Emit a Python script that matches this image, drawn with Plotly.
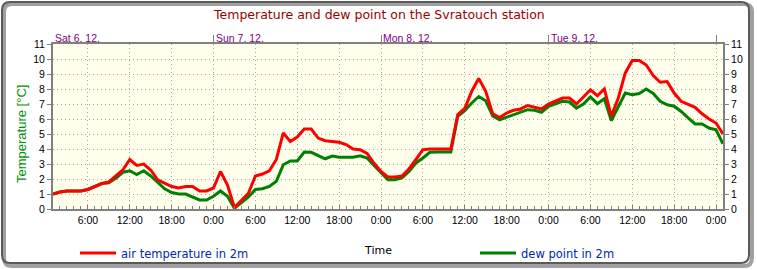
import plotly.graph_objects as go
import pandas as pd

# ---------------- data ----------------
times = pd.date_range("2008-12-06 01:00", "2008-12-10 01:00", freq="h")

air_temp = [1.0, 1.13, 1.2, 1.2, 1.2, 1.3, 1.5, 1.7, 1.8, 2.2, 2.6, 3.3, 2.9, 3.0, 2.6, 1.95,
            1.7, 1.5, 1.4, 1.5, 1.5, 1.2, 1.2, 1.4, 2.5, 1.6, 0.1, 0.55, 1.05, 2.2, 2.33, 2.55,
            3.3, 5.07, 4.5, 4.8, 5.33, 5.33, 4.73, 4.55, 4.5, 4.45, 4.3, 4.0, 3.95, 3.7, 3.05, 2.5,
            2.13, 2.13, 2.2, 2.67, 3.3, 3.95, 4.0, 4.0, 4.0, 4.0, 6.3, 6.7, 7.85, 8.7, 7.85, 6.35,
            6.1, 6.4, 6.58, 6.67, 6.9, 6.78, 6.67, 7.0, 7.18, 7.4, 7.4, 7.0, 7.47, 7.95, 7.55, 8.0,
            6.18, 7.4, 9.07, 9.9, 9.9, 9.6, 8.9, 8.45, 8.5, 7.73, 7.18, 7.0, 6.78, 6.35, 6.0, 5.73,
            5.0]

dew_point = [1.0, 1.13, 1.2, 1.2, 1.2, 1.3, 1.5, 1.7, 1.75, 2.05, 2.45, 2.55, 2.3, 2.55, 2.2, 1.8,
             1.35, 1.1, 1.0, 1.0, 0.8, 0.6, 0.6, 0.85, 1.2, 0.85, 0.05, 0.45, 0.8, 1.3, 1.35, 1.5,
             1.85, 2.95, 3.2, 3.2, 3.8, 3.78, 3.58, 3.35, 3.53, 3.45, 3.45, 3.45, 3.55, 3.4, 2.9, 2.4,
             1.95, 1.95, 2.07, 2.5, 3.07, 3.4, 3.78, 3.8, 3.78, 3.8, 6.18, 6.55, 7.07, 7.5, 7.22, 6.2,
             5.95, 6.13, 6.3, 6.45, 6.62, 6.58, 6.45, 6.85, 7.0, 7.18, 7.13, 6.73, 7.0, 7.47, 7.02, 7.35,
             5.9, 6.85, 7.73, 7.62, 7.7, 8.0, 7.7, 7.18, 6.95, 6.85, 6.5, 6.07, 5.67, 5.67, 5.4, 5.28,
             4.35]

x_tick_times = pd.date_range("2008-12-06 06:00", "2008-12-10 00:00", freq="6h")
x_tick_labels = ["6:00", "12:00", "18:00", "0:00"] * 4
x_tick_labels = x_tick_labels[:len(x_tick_times)]

day_starts = pd.date_range("2008-12-06", "2008-12-10", freq="D")
day_labels = ["Sat 6. 12.", "Sun 7. 12.", "Mon 8. 12.", "Tue 9. 12."]

y_ticks = list(range(0, 12))

title_text = "Temperature and dew point on the Svratouch station"
y_title = "Temperature [°C]"
x_title = "Time"
name_air = "air temperature in 2m"
name_dew = "dew point in 2m"

x_range = [times[0], times[-1]]

# ---------------- geometry helpers ----------------
W, H = 757, 270
L, R, T, B = 53, 723, 44, 209


def px(x):
    return (x - L) / (R - L)


def py(y):
    return (B - y) / (B - T)


fig = go.Figure()

fig.add_trace(go.Scatter(x=times, y=dew_point, mode="lines", name=name_dew,
                         line=dict(color="#008000", width=3),
                         xaxis="x", yaxis="y", legend="legend2"))
fig.add_trace(go.Scatter(x=times, y=air_temp, mode="lines", name=name_air,
                         line=dict(color="#FF0000", width=3),
                         xaxis="x2", yaxis="y2", legend="legend"))

axis_gray = "#808080"
grid_gray = "#A8A8A8"
grid_dash = "1px,3px"
tick_font = dict(family="Liberation Sans, Arial, sans-serif", size=10.5, color="black")
legend_font = dict(family="DejaVu Sans, Verdana, sans-serif", size=11.5, color="#0028B0")

fig.update_layout(
    width=W, height=H, autosize=False,
    margin=dict(l=L, r=W - R, t=T, b=H - B, autoexpand=False),
    paper_bgcolor="white",
    plot_bgcolor="#FFFFEC",
    xaxis=dict(type="date", range=x_range, tickmode="array", tickvals=x_tick_times,
               ticktext=x_tick_labels, ticks="inside", ticklen=4, tickcolor=axis_gray,
               showgrid=True, gridcolor=grid_gray, griddash=grid_dash, gridwidth=1,
               showline=True, linecolor=axis_gray, linewidth=2, zeroline=False,
               tickfont=tick_font,
               minor=dict(tick0="2008-12-06 00:00", dtick=3600000, ticks="inside",
                          ticklen=3, tickcolor=axis_gray, showgrid=False)),
    xaxis2=dict(type="date", range=x_range, overlaying="x", side="top", tickmode="array",
                tickvals=day_starts, ticks="outside", ticklen=7, tickcolor=axis_gray,
                showticklabels=False, showgrid=False, showline=True, linecolor=axis_gray,
                linewidth=2, zeroline=False),
    yaxis=dict(range=[0, 11], tickmode="array", tickvals=y_ticks, ticks="outside", ticklen=4,
               tickcolor=axis_gray, showgrid=True, gridcolor=grid_gray, griddash=grid_dash,
               showline=True, linecolor=axis_gray, linewidth=2, zeroline=False,
               tickfont=tick_font),
    yaxis2=dict(range=[0, 11], overlaying="y", side="right", tickmode="array", tickvals=y_ticks,
                ticks="outside", ticklen=4, tickcolor=axis_gray, showgrid=False,
                showline=True, linecolor=axis_gray, linewidth=2, zeroline=False,
                tickfont=tick_font),
    legend=dict(x=px(75), y=py(253), xanchor="left", yanchor="middle", orientation="h",
                bgcolor="rgba(0,0,0,0)", itemwidth=36, font=legend_font),
    legend2=dict(x=px(475), y=py(253), xanchor="left", yanchor="middle", orientation="h",
                 bgcolor="rgba(0,0,0,0)", itemwidth=36, font=legend_font),
    showlegend=True,
)

annotations = [
    dict(text=title_text, xref="paper", yref="paper", x=px(379), y=py(15),
         xanchor="center", yanchor="middle", showarrow=False,
         font=dict(family="DejaVu Sans, Verdana, sans-serif", size=12.5, color="#9A0000")),
    dict(text=y_title, xref="paper", yref="paper", x=px(21), y=py(134), textangle=-90,
         xanchor="center", yanchor="middle", showarrow=False,
         font=dict(family="Liberation Sans, Arial, sans-serif", size=13, color="#009000")),
    dict(text=x_title, xref="paper", yref="paper", x=px(378), y=py(251),
         xanchor="center", yanchor="middle", showarrow=False,
         font=dict(family="DejaVu Sans, Verdana, sans-serif", size=11, color="black")),
]
for d, lab in zip(day_starts, day_labels):
    xpos = max(d, times[0])
    annotations.append(dict(text=lab, xref="x", yref="paper", x=xpos, y=py(38),
                            xanchor="left", yanchor="middle", showarrow=False, xshift=0,
                            font=dict(family="Liberation Sans, Arial, sans-serif", size=10.5,
                                      color="#800080")))
fig.update_layout(annotations=annotations)


def rounded_rect(x0, y0, x1, y1, r):
    pts = (f"M {px(x0 + r)} {py(y0)} L {px(x1 - r)} {py(y0)} "
           f"Q {px(x1)} {py(y0)} {px(x1)} {py(y0 + r)} "
           f"L {px(x1)} {py(y1 - r)} Q {px(x1)} {py(y1)} {px(x1 - r)} {py(y1)} "
           f"L {px(x0 + r)} {py(y1)} Q {px(x0)} {py(y1)} {px(x0)} {py(y1 - r)} "
           f"L {px(x0)} {py(y0 + r)} Q {px(x0)} {py(y0)} {px(x0 + r)} {py(y0)} Z")
    return pts


fig.update_layout(shapes=[
    dict(type="path", xref="paper", yref="paper", path=rounded_rect(4, 4, 752, 266, 8),
         line=dict(color="#A0A0A0", width=4), layer="below"),
    dict(type="path", xref="paper", yref="paper", path=rounded_rect(2, 2, 749, 263, 8),
         line=dict(color="#5A5A5A", width=2), layer="below"),
])

fig.write_html("out.html")
